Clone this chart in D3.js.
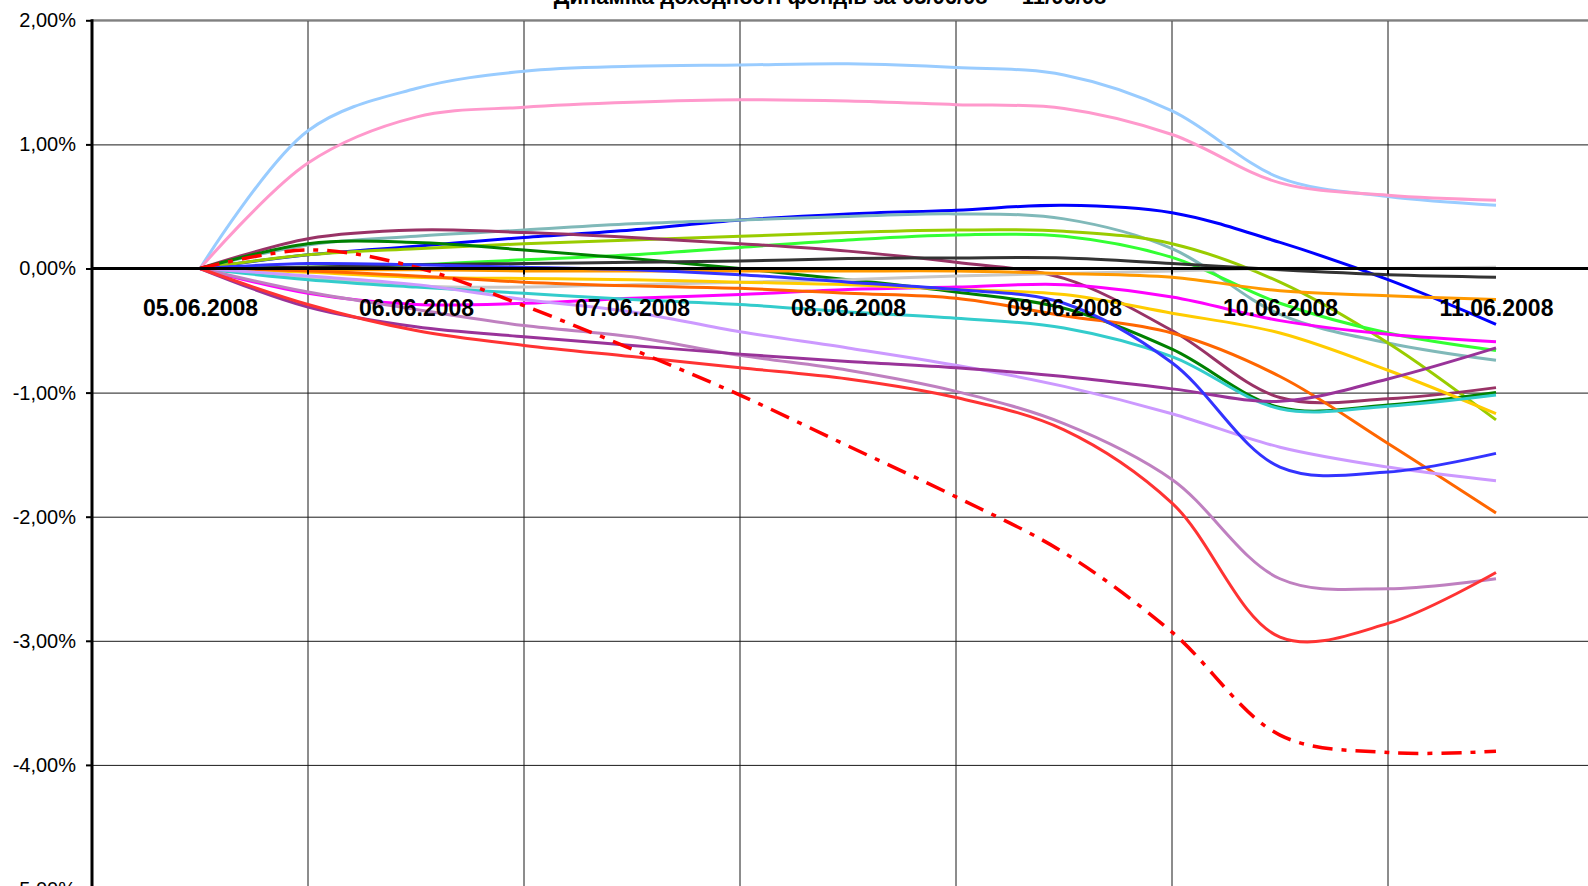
<!DOCTYPE html>
<html>
<head>
<meta charset="utf-8">
<script src="https://cdn.jsdelivr.net/npm/d3@7"></script>
<style>
html,body{margin:0;padding:0;background:#fff;overflow:hidden}
text{font-family:Arial,"Liberation Sans",sans-serif}
</style>
</head>
<body>
<svg id="chart" width="1588" height="886"></svg>
<script>
// ---------- data ----------
const chartTitle = "Динаміка доходності фондів за 05/06/08 — 11/06/08";
const dates = ["05.06.2008","06.06.2008","07.06.2008","08.06.2008","09.06.2008","10.06.2008","11.06.2008"];
// observation positions (in days from 05.06.2008), read every half day
const pointPos = [0,0.5,1,1.5,2,2.5,3,3.5,4,4.5,5,5.5,6];
const yTicks = [2,1,0,-1,-2,-3,-4,-5];

const fundLightBlue  = [0, 1.11, 1.45, 1.59, 1.63, 1.64, 1.65, 1.62, 1.56, 1.27, 0.73, 0.58, 0.51];
const fundPink       = [0, 0.85, 1.22, 1.30, 1.34, 1.36, 1.35, 1.32, 1.29, 1.08, 0.69, 0.59, 0.55];
const fundBlue       = [0, 0.11, 0.18, 0.25, 0.31, 0.39, 0.44, 0.47, 0.51, 0.45, 0.21, -0.09, -0.45];
const fundGreyTeal   = [0, 0.19, 0.26, 0.31, 0.36, 0.39, 0.42, 0.44, 0.40, 0.16, -0.37, -0.60, -0.74];
const fundYellowGrn  = [0, 0.11, 0.16, 0.20, 0.23, 0.26, 0.29, 0.31, 0.30, 0.20, -0.11, -0.60, -1.22];
const fundBrightGrn  = [0, 0.01, 0.03, 0.07, 0.11, 0.17, 0.23, 0.27, 0.26, 0.09, -0.28, -0.52, -0.66];
const fundMaroon     = [0, 0.24, 0.31, 0.29, 0.25, 0.20, 0.14, 0.05, -0.08, -0.50, -1.04, -1.05, -0.96];
const fundDarkGreen  = [0, 0.20, 0.21, 0.15, 0.08, 0.00, -0.09, -0.19, -0.32, -0.65, -1.12, -1.10, -1.00];
const fundDarkGrey   = [0, 0.01, 0.03, 0.04, 0.05, 0.06, 0.08, 0.085, 0.085, 0.04, -0.01, -0.05, -0.07];
const fundLightGrey  = [0, -0.07, -0.14, -0.15, -0.13, -0.11, -0.09, -0.06, -0.04, -0.02, 0.00, 0.00, 0.01];
const fundOrange     = [0, -0.01, -0.01, -0.02, -0.02, -0.02, -0.02, -0.02, -0.04, -0.07, -0.18, -0.22, -0.25];
const fundMagenta    = [0, -0.20, -0.29, -0.28, -0.24, -0.21, -0.17, -0.15, -0.13, -0.23, -0.42, -0.53, -0.59];
const fundGold       = [0, -0.03, -0.07, -0.08, -0.09, -0.11, -0.13, -0.17, -0.21, -0.36, -0.52, -0.82, -1.17];
const fundDarkOrange = [0, -0.02, -0.06, -0.11, -0.14, -0.16, -0.20, -0.24, -0.38, -0.52, -0.87, -1.41, -1.97];
const fundTurquoise  = [0, -0.09, -0.15, -0.20, -0.25, -0.29, -0.35, -0.40, -0.48, -0.71, -1.13, -1.11, -1.02];
const fundLilac      = [0, -0.06, -0.13, -0.25, -0.35, -0.51, -0.64, -0.78, -0.95, -1.17, -1.44, -1.60, -1.71];
const fundOrchid     = [0, -0.19, -0.33, -0.46, -0.55, -0.70, -0.82, -0.99, -1.25, -1.70, -2.50, -2.58, -2.50];
const fundPurple     = [0, -0.31, -0.47, -0.55, -0.62, -0.69, -0.75, -0.80, -0.87, -0.97, -1.07, -0.89, -0.64];
const fundRed        = [0, -0.29, -0.50, -0.62, -0.71, -0.80, -0.89, -1.04, -1.30, -1.89, -2.97, -2.86, -2.45];
const fundRoyalBlue  = [0, 0.04, 0.03, 0.01, -0.01, -0.05, -0.11, -0.17, -0.28, -0.76, -1.60, -1.64, -1.49];
const fundRedDashDot = [0, 0.15, 0.01, -0.30, -0.65, -1.02, -1.43, -1.84, -2.29, -2.93, -3.76, -3.90, -3.89];

const seriesList = [fundLightBlue, fundPink, fundBlue, fundGreyTeal, fundYellowGrn, fundBrightGrn,
  fundMaroon, fundDarkGreen, fundDarkGrey, fundLightGrey, fundOrange, fundMagenta, fundGold,
  fundDarkOrange, fundTurquoise, fundLilac, fundOrchid, fundPurple, fundRed, fundRoyalBlue, fundRedDashDot];
const seriesColors = ["#99CCFF","#FF99CC","#0000FF","#80B9B9","#99CC00","#33FF33",
  "#993366","#008000","#333333","#C8C8C8","#FF9900","#FF00FF","#FFCC00",
  "#FF6600","#33CCCC","#CC99FF","#BF80C0","#993399","#FF3333","#3333FF","#FF0000"];
const seriesDash = [null,null,null,null,null,null,null,null,null,null,null,null,null,
  null,null,null,null,null,null,null,"20,9,5,9"];

// ---------- layout ----------
const plotLeft = 92, plotRight = 1604, plotTop = 20.3, plotBottom = 889;
const svg = d3.select("#chart");
svg.append("rect").attr("width",1588).attr("height",886).attr("fill","#fff");

const x = d3.scaleLinear().domain([-0.5, dates.length - 0.5]).range([plotLeft, plotRight]);
const y = d3.scaleLinear().domain([-5, 2]).range([plotBottom, plotTop]);

// horizontal gridlines + labels
const yAxis = d3.axisLeft(y).tickValues(yTicks).tickSize(-(plotRight - plotLeft)).tickPadding(16)
  .tickFormat(d => d3.format(".2f")(d).replace(".", ",").replace("−","-") + "%");
const gy = svg.append("g").attr("transform", `translate(${plotLeft},0)`).call(yAxis);
gy.select(".domain").remove();
gy.selectAll("line").attr("stroke", "#1a1a1a").attr("stroke-width", 1);
gy.selectAll("text").attr("font-size", 20).attr("fill", "#000").attr("font-family","Arial, 'Liberation Sans', sans-serif");

// outer y ticks
const yTickMarks = d3.axisLeft(y).tickValues(yTicks).tickSize(6).tickFormat("");
const gyt = svg.append("g").attr("transform", `translate(${plotLeft},0)`).call(yTickMarks);
gyt.select(".domain").remove();
gyt.selectAll("line").attr("stroke", "#000").attr("stroke-width", 2);

// vertical gridlines at category boundaries
const boundaries = d3.range(dates.length + 1).map(i => i - 0.5);
svg.append("g").selectAll("line").data(boundaries.slice(1)).join("line")
  .attr("x1", d => x(d)).attr("x2", d => x(d))
  .attr("y1", plotTop).attr("y2", plotBottom)
  .attr("stroke", "#1a1a1a").attr("stroke-width", 1);

// top border of plot
svg.append("line").attr("x1", plotLeft).attr("x2", plotRight).attr("y1", plotTop).attr("y2", plotTop)
  .attr("stroke", "#808080").attr("stroke-width", 2);

// series lines
svg.append("clipPath").attr("id","clipPlot").append("rect")
  .attr("x", plotLeft).attr("y", plotTop).attr("width", plotRight - plotLeft).attr("height", plotBottom - plotTop);
const line = d3.line().x((d, i) => x(pointPos[i])).y(d => y(d)).curve(d3.curveCatmullRom.alpha(0.5));
const gl = svg.append("g").attr("clip-path","url(#clipPlot)");
seriesList.forEach((s, i) => {
  gl.append("path").attr("d", line(s)).attr("fill", "none")
    .attr("stroke", seriesColors[i]).attr("stroke-width", i === 20 ? 3.5 : 3)
    .attr("stroke-linejoin","round")
    .attr("stroke-dasharray", seriesDash[i]);
});

// zero axis with ticks and date labels
const xAxis = d3.axisBottom(x).tickValues(d3.range(dates.length)).tickSize(0)
  .tickFormat(i => dates[i]);
const gx = svg.append("g").attr("transform", `translate(0,${y(0)})`).call(xAxis);
gx.select(".domain").remove();
gx.selectAll("text").attr("y", 47).attr("dy", 0).attr("font-size", 23).attr("font-weight", "bold")
  .attr("fill","#000").attr("font-family","Arial, 'Liberation Sans', sans-serif");
svg.append("g").selectAll("line").data(boundaries.slice(1)).join("line")
  .attr("x1", d => x(d)).attr("x2", d => x(d))
  .attr("y1", y(0)).attr("y2", y(0) + 6)
  .attr("stroke", "#000").attr("stroke-width", 2);
svg.append("line").attr("x1", plotLeft).attr("x2", 1600).attr("y1", y(0)).attr("y2", y(0))
  .attr("stroke", "#000").attr("stroke-width", 3);

// y axis line
svg.append("line").attr("x1", plotLeft).attr("x2", plotLeft).attr("y1", plotTop - 1).attr("y2", 890)
  .attr("stroke", "#000").attr("stroke-width", 3);

// title (mostly cut off at top, as in the reference)
svg.append("text").attr("x", 830).attr("y", 4).attr("text-anchor", "middle")
  .attr("font-size", 22).attr("font-weight", "bold").attr("fill", "#000").text(chartTitle);
</script>
</body>
</html>
